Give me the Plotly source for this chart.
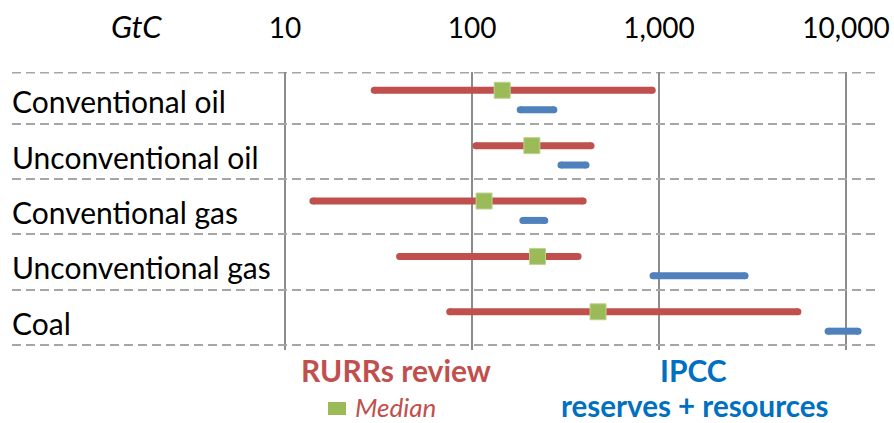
import plotly.graph_objects as go

# ---- data (GtC) ----
categories = ["Conventional oil", "Unconventional oil", "Conventional gas",
              "Unconventional gas", "Coal"]
rurr_low = [30, 105, 14.1, 41, 76]
rurr_high = [920, 433, 393, 369, 5530]
rurr_median = [145, 209, 116, 224, 472]
ipcc_low = [181, 299, 187, 929, 8020]
ipcc_high = [274, 407, 245, 2885, 11600]
tick_vals = [10, 100, 1000, 10000]
tick_text = ["10", "100", "1,000", "10,000"]

RED = "#c0504d"
BLUE = "#4f81bd"
GREEN = "#9bbb59"
FONT = "Lato"

rows = list(range(len(categories)))
red_y_off = 0.40
blue_y_off = 0.75
label_y_off = 0.60

def segs(lo, hi, off):
    xs, ys = [], []
    for r, a, b in zip(rows, lo, hi):
        xs += [a, b, None]
        ys += [r + off, r + off, None]
    return xs, ys

fig = go.Figure()

rx, ry = segs(rurr_low, rurr_high, red_y_off)
fig.add_trace(go.Scatter(x=rx, y=ry, mode="lines+markers",
                         line=dict(color=RED, width=7),
                         marker=dict(color=RED, size=7, line=dict(width=0)),
                         hoverinfo="skip", showlegend=False))
bx, by = segs(ipcc_low, ipcc_high, blue_y_off)
fig.add_trace(go.Scatter(x=bx, y=by, mode="lines+markers",
                         line=dict(color=BLUE, width=7),
                         marker=dict(color=BLUE, size=7, line=dict(width=0)),
                         hoverinfo="skip", showlegend=False))
fig.add_trace(go.Scatter(x=rurr_median, y=[r + red_y_off for r in rows],
                         mode="markers",
                         marker=dict(symbol="square", size=16, color=GREEN,
                                     line=dict(color="#bcd38f", width=1)),
                         showlegend=False))

# category labels
for r, c in zip(rows, categories):
    fig.add_annotation(x=0, xref="paper", y=r + label_y_off, yref="y",
                       text=c, showarrow=False, xanchor="left", yanchor="middle",
                       xshift=-2,
                       font=dict(family=FONT, size=30, color="black"))

# axis unit label
fig.add_annotation(x=0.1425, xref="paper", y=1.158, yref="paper", text="<i>GtC</i>",
                   showarrow=False, xanchor="center", yanchor="middle",
                   xshift=2, yshift=2,
                   font=dict(family=FONT, size=31, color="black"))

# legend texts
fig.add_annotation(x=(396 - 12) / 863, xref="paper", y=(350 - 370) / 278, yref="paper",
                   text="<b>RURRs review</b>",
                   showarrow=False, xanchor="center", yanchor="middle",
                   font=dict(family=FONT, size=30, color=RED))
fig.add_annotation(x=(355 - 12) / 863, xref="paper", y=(350 - 407) / 278, yref="paper",
                   text="<i>Median</i>",
                   showarrow=False, xanchor="left", yanchor="middle",
                   xshift=-2,
                   font=dict(family=FONT, size=26, color=RED))
fig.add_annotation(x=(693 - 12) / 863, xref="paper", y=(350 - 370) / 278, yref="paper",
                   text="<b>IPCC</b>",
                   showarrow=False, xanchor="center", yanchor="middle",
                   font=dict(family=FONT, size=30, color="#0070c0"))
fig.add_annotation(x=(694 - 12) / 863, xref="paper", y=(350 - 405) / 278, yref="paper",
                   text="<b>reserves + resources</b>",
                   showarrow=False, xanchor="center", yanchor="middle",
                   font=dict(family=FONT, size=29.5, color="#0070c0"))
fig.add_shape(type="rect", xref="paper", yref="paper",
              x0=(328 - 12) / 863, x1=(346 - 12) / 863,
              y0=(350 - 415) / 278, y1=(350 - 402) / 278,
              fillcolor=GREEN, line=dict(width=0))

# top dashed boundary
fig.add_shape(type="line", xref="paper", yref="y", x0=0, x1=1, y0=0.08, y1=0.08,
              line=dict(color="#a6a6a6", width=2, dash="9px,5px"), layer="below")

fig.update_xaxes(type="log", range=[-0.46, 4.155], side="top",
                 tickvals=tick_vals, ticktext=tick_text,
                 showgrid=True, gridcolor="#8c8c8c", gridwidth=2,
                 zeroline=False, showline=False, ticks="",
                 tickfont=dict(family=FONT, size=28, color="black"),
                 ticklabelstandoff=27, automargin=False)
fig.update_yaxes(range=[5.09, 0.07], tickvals=[1, 2, 3, 4, 5],
                 showticklabels=False, showgrid=True, gridcolor="#a6a6a6",
                 gridwidth=2, griddash="9px,5px", zeroline=False, showline=False,
                 ticks="", automargin=False)

fig.update_layout(width=894, height=423,
                  margin=dict(l=12, r=19, t=72, b=73),
                  plot_bgcolor="white", paper_bgcolor="white",
                  showlegend=False)

fig.write_html("out.html", config={"displayModeBar": False},
               post_script="document.body.style.margin='0';document.body.style.overflow='hidden';")
